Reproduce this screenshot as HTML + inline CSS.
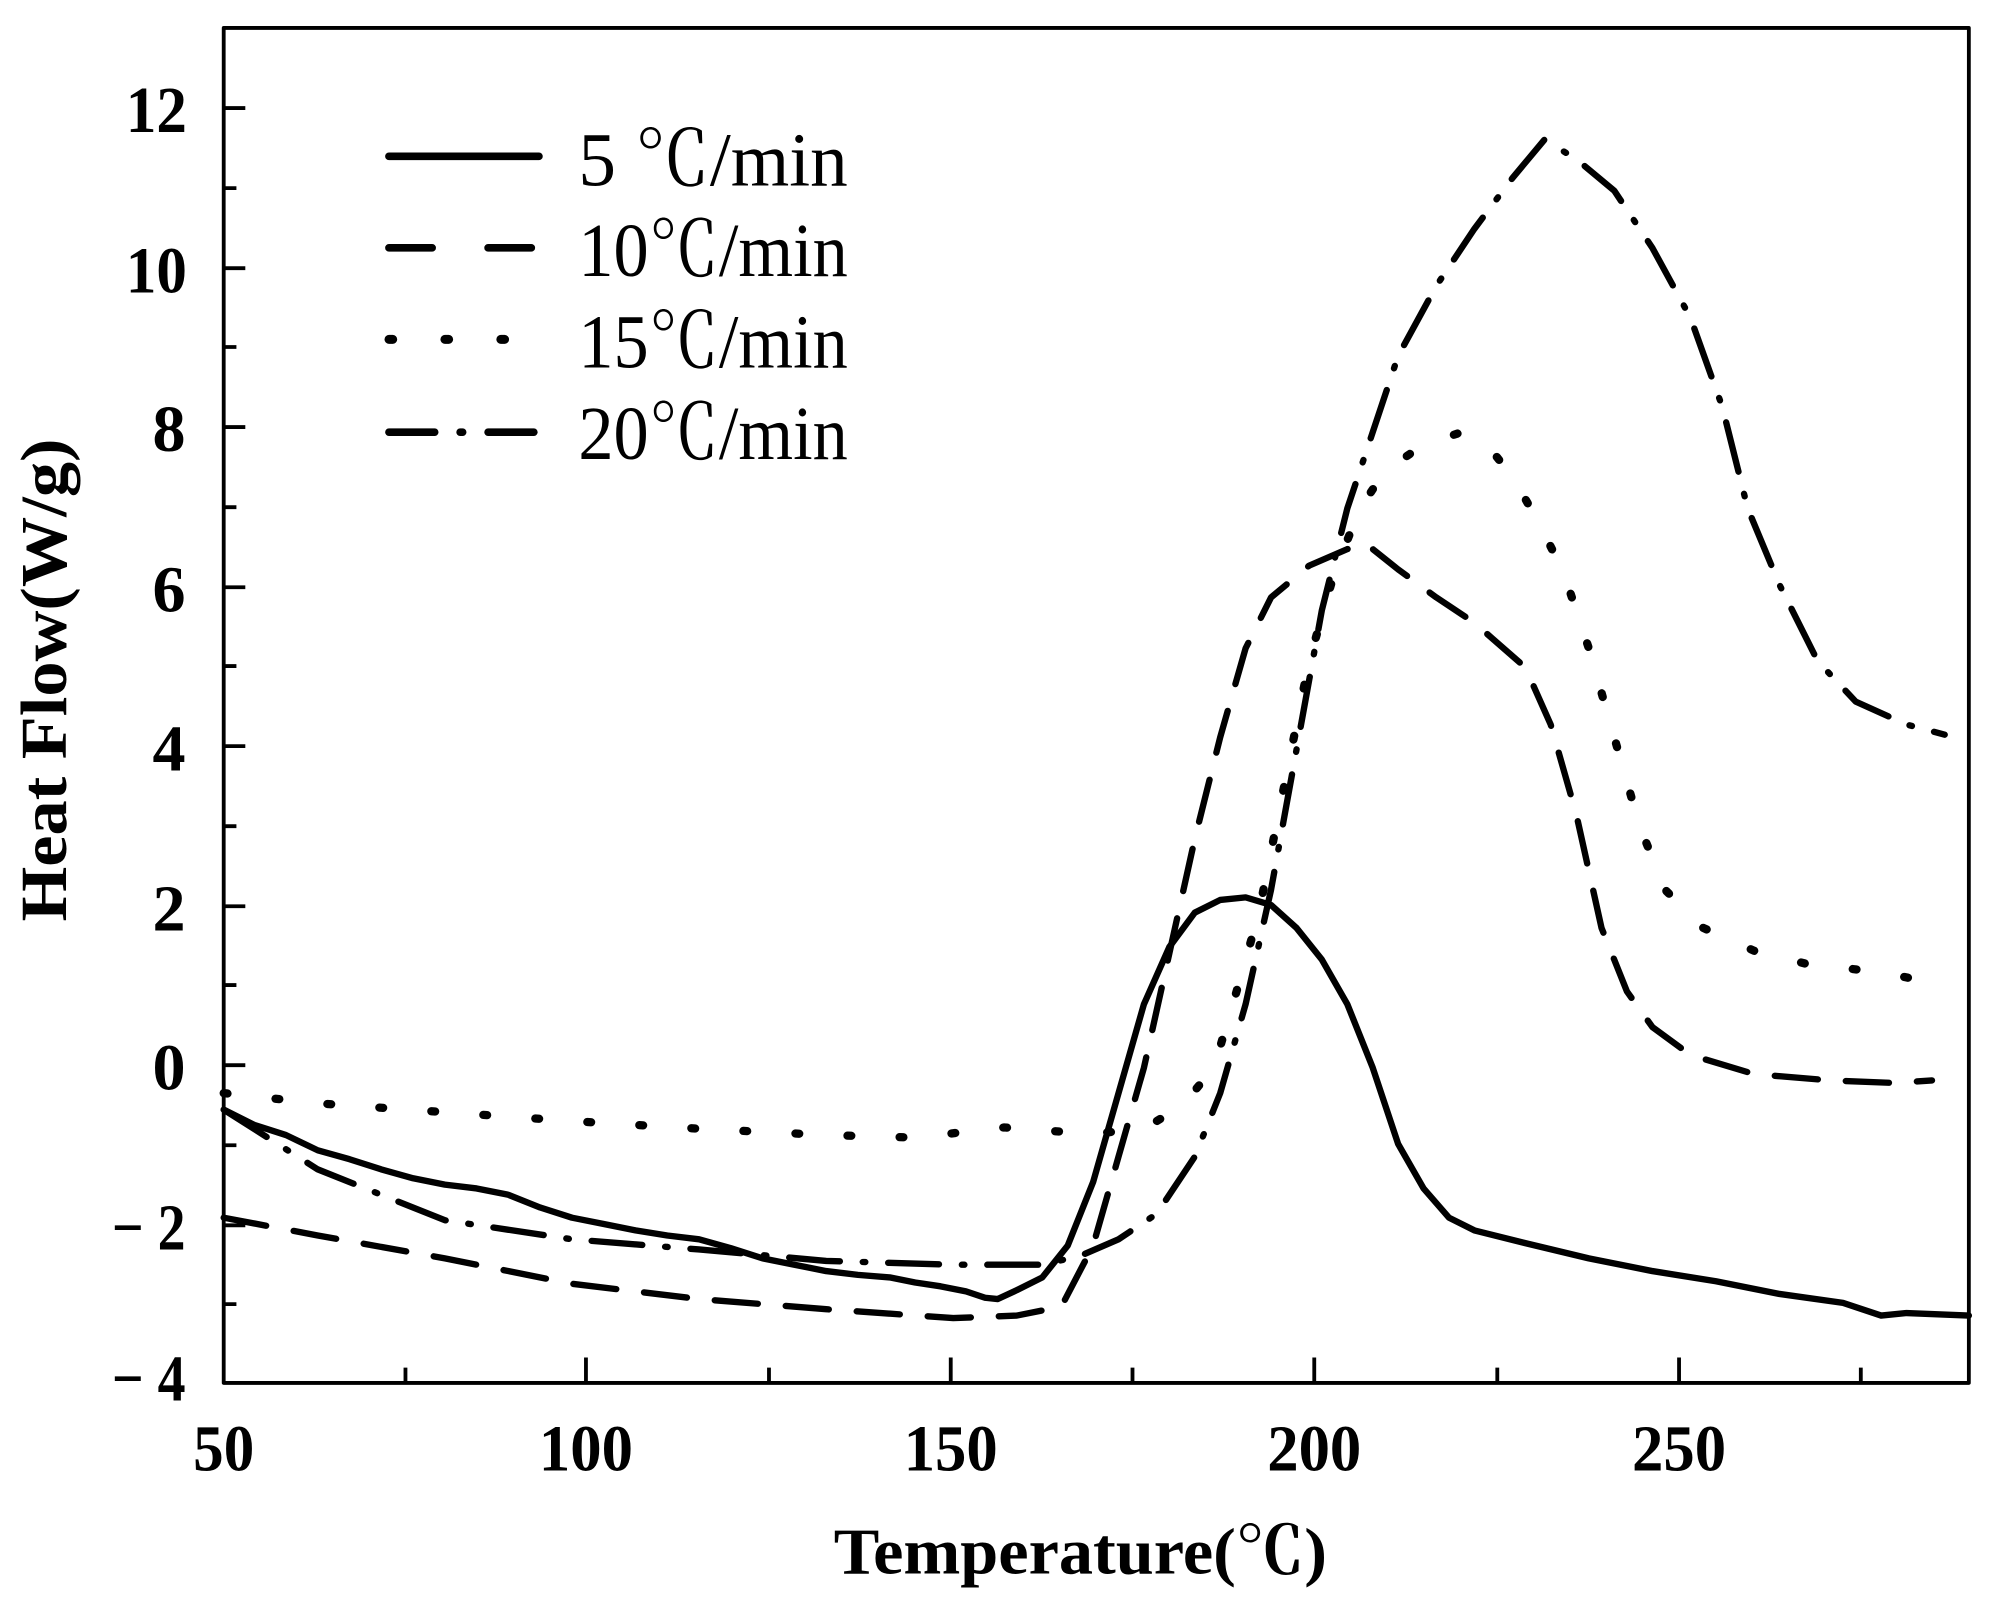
<!DOCTYPE html>
<html><head><meta charset="utf-8"><style>
html,body{margin:0;padding:0;background:#fff;}
svg{display:block;}
</style></head><body>
<svg width="1993" height="1606" viewBox="0 0 1568 1263.5" preserveAspectRatio="none" xmlns="http://www.w3.org/2000/svg">
<rect width="1568" height="1264" fill="#fff"/>
<g fill="none" stroke="#000" stroke-linejoin="round">
<rect x="176" y="22" width="1373" height="1066" stroke-width="3"/>
<path stroke-width="3" d="M176 85h17M176 211h17M176 336h17M176 462h17M176 587h17M176 713h17M176 838h17M176 964h17
M176 148h10M176 273h10M176 399h10M176 524h10M176 650h10M176 775h10M176 901h10M176 1026h10"/>
<path stroke-width="3" d="M461 1088v-20M748 1088v-20M1034 1088v-20M1321 1088v-20M319 1088v-12M605 1088v-12M891 1088v-12M1178 1088v-12M1464 1088v-12"/>
</g>
<g fill="none" stroke="#000" stroke-width="5" stroke-linecap="round" stroke-linejoin="round">
<polyline points="176,873 200,885 225,893 250,905 275,912 300,920 325,927 350,932 375,935 400,940 425,950 450,958 475,963 500,968 525,972 550,975 575,982 600,990 625,995 650,1000 675,1003 700,1005 720,1009 740,1012 760,1016 775,1021 785,1022 800,1015 820,1005 840,980 860,930 880,860 900,790 920,745 940,718 960,708 980,706 1000,712 1020,730 1040,755 1060,790 1080,840 1100,900 1120,935 1140,958 1160,968 1200,978 1250,990 1300,1000 1350,1008 1400,1018 1450,1025 1480,1035 1500,1033 1549,1035"/>
<polyline stroke-dasharray="34 22" points="176,958 250,972 350,990 450,1010 550,1022 650,1030 750,1037 800,1035 835,1028 860,980 880,910 900,840 920,750 940,660 960,580 980,510 1000,470 1030,445 1060,432 1075,428 1100,448 1130,470 1160,490 1200,525 1220,570 1240,640 1260,730 1280,780 1300,808 1330,830 1380,845 1440,850 1490,852 1520,850"/>
<polyline stroke-dasharray="3 38" stroke-width="6.5" points="176,860 250,868 350,875 450,882 550,888 650,893 720,895 790,887 830,890 860,892 900,888 930,870 955,840 970,790 990,720 1010,620 1030,520 1050,450 1070,400 1090,370 1120,350 1150,340 1170,350 1190,375 1210,410 1230,450 1250,510 1270,580 1290,650 1310,700 1340,730 1380,748 1420,758 1480,765 1530,775"/>
<polyline stroke-dasharray="40 18 2 18" points="176,873 250,920 350,960 450,975 550,983 650,992 750,995 820,995 850,988 880,975 910,955 940,910 960,860 980,790 1000,700 1020,590 1040,480 1060,400 1080,340 1100,280 1130,225 1160,180 1190,140 1215,110 1240,125 1270,150 1300,195 1330,250 1355,320 1375,400 1400,460 1430,520 1460,552 1500,570 1530,578"/>
<line x1="306" y1="123" x2="424" y2="123" stroke-width="6"/>
<line x1="306" y1="195" x2="424" y2="195" stroke-width="6" stroke-dasharray="34 44"/>
<line x1="306" y1="267" x2="424" y2="267" stroke-width="7" stroke-dasharray="3 41"/>
<line x1="306" y1="340" x2="424" y2="340" stroke-width="6" stroke-dasharray="36 20 2 20"/>
</g>
<g font-family="'Liberation Serif','Noto Serif CJK SC',serif" font-size="60" fill="#000">
<text x="455" y="146" textLength="212" lengthAdjust="spacingAndGlyphs">5  ℃/min</text>
<text x="455" y="217" textLength="212" lengthAdjust="spacingAndGlyphs">10℃/min</text>
<text x="455" y="289" textLength="212" lengthAdjust="spacingAndGlyphs">15℃/min</text>
<text x="455" y="361" textLength="212" lengthAdjust="spacingAndGlyphs">20℃/min</text>
</g>
<g font-family="'Liberation Serif',serif" font-weight="bold" font-size="52" fill="#000" text-anchor="end">
<text x="147" y="104" textLength="48" lengthAdjust="spacingAndGlyphs">12</text>
<text x="147" y="230" textLength="48" lengthAdjust="spacingAndGlyphs">10</text>
<text x="146" y="355">8</text>
<text x="146" y="481">6</text>
<text x="146" y="606">4</text>
<text x="146" y="732">2</text>
<text x="146" y="857">0</text>
<text x="146" y="983" textLength="58" lengthAdjust="spacingAndGlyphs">− 2</text>
<text x="146" y="1102" textLength="58" lengthAdjust="spacingAndGlyphs">− 4</text>
</g>
<g font-family="'Liberation Serif',serif" font-weight="bold" font-size="52" fill="#000" text-anchor="middle">
<text x="176" y="1157" textLength="48" lengthAdjust="spacingAndGlyphs">50</text>
<text x="461" y="1157" textLength="74" lengthAdjust="spacingAndGlyphs">100</text>
<text x="748" y="1157" textLength="74" lengthAdjust="spacingAndGlyphs">150</text>
<text x="1034" y="1157" textLength="74" lengthAdjust="spacingAndGlyphs">200</text>
<text x="1321" y="1157" textLength="74" lengthAdjust="spacingAndGlyphs">250</text>
</g>
<text x="850" y="1238" text-anchor="middle" font-family="'Liberation Serif','Noto Serif CJK SC',serif" font-weight="bold" font-size="52" textLength="388" lengthAdjust="spacingAndGlyphs">Temperature(℃)</text>
<text transform="translate(52,535) rotate(-90)" text-anchor="middle" font-family="'Liberation Serif',serif" font-weight="bold" font-size="52" textLength="380" lengthAdjust="spacingAndGlyphs">Heat Flow(W/g)</text>
</svg>
</body></html>
